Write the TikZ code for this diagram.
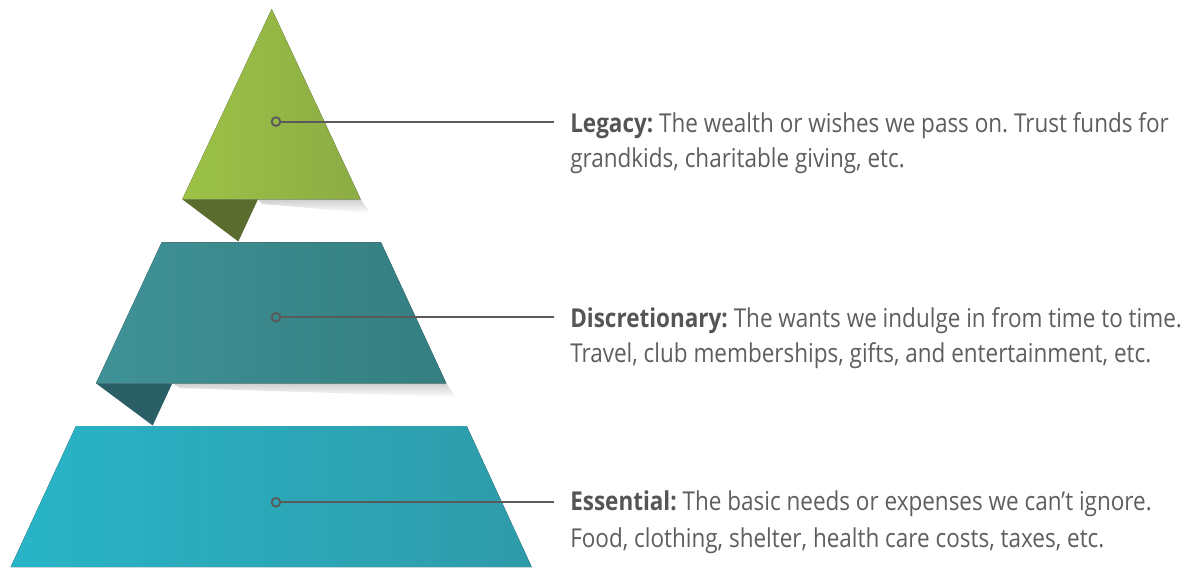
\documentclass[tikz,border=0pt]{standalone}
\usepackage{fontspec}
\setmainfont{Open Sans}[FakeStretch=0.865]
\definecolor{txt}{HTML}{5E5E5E}
\definecolor{txtb}{HTML}{555555}
\definecolor{lineg}{HTML}{5A5A5A}
\definecolor{gL}{HTML}{9CC246}
\definecolor{gR}{HTML}{8CAC45}
\definecolor{gF}{HTML}{5A6C2E}
\definecolor{mL}{HTML}{3F9297}
\definecolor{mR}{HTML}{347E80}
\definecolor{mF}{HTML}{2A5F66}
\definecolor{bL}{HTML}{28B4C7}
\definecolor{bR}{HTML}{2F9BA9}
\tikzset{
  lbl/.style={anchor=base west, inner sep=0pt, text=txt, font=\fontsize{19.5pt}{23pt}\selectfont\frenchspacing},
  dotc/.style={circle, draw=lineg, line width=1.4pt, inner sep=0pt, minimum size=6.5pt},
  conn/.style={draw=lineg, line width=1.4pt, shorten >=12pt},
  shad/.style={top color=black!35, bottom color=white, opacity=0.55, draw=none},
}
\begin{document}
\begin{tikzpicture}[x=0.75pt,y=-0.75pt]
\useasboundingbox (0,0) rectangle (1201,567);
% bottom layer
\fill[left color=bL, right color=bR] (76,426) -- (466.7,426) -- (531.7,567) -- (10.7,567) -- cycle;
% middle layer shadow and layer
\shade[shad] (172,383) -- (446,383) -- (456,397) -- (180,388) -- cycle;
\fill[left color=mL, right color=mR] (161.7,242.3) -- (381,242.3) -- (446.3,383.3) -- (96,383.3) -- cycle;
\fill[mF] (96,383.3) -- (172.3,383.3) -- (152.7,425.5) -- cycle;
% top layer shadow and layer
\shade[shad] (258,199.3) -- (360.7,199.3) -- (370,213) -- (262,204) -- cycle;
\fill[left color=gL, right color=gR] (271.7,9) -- (360.7,199.3) -- (182.3,199.3) -- cycle;
\fill[gF] (182.3,199.3) -- (258,199.3) -- (238.3,241.5) -- cycle;
% dots
\node[dotc] (c1) at (276,121.6) {};
\node[dotc] (c2) at (276,317.3) {};
\node[dotc] (c3) at (276,502.3) {};
% texts
\node[lbl] (t1a) at (570,132.2) {\textcolor{txtb}{\textbf{Legacy:}} The wealth or wishes we pass on. Trust funds for};
\node[lbl] (t1b) at (570,167.7) {grandkids, charitable giving, etc.};
\node[lbl] (t2a) at (570,327) {\textcolor{txtb}{\textbf{Discretionary:}} The wants we indulge in from time to time.};
\node[lbl] (t2b) at (570,362.8) {Travel, club memberships, gifts, and entertainment, etc.};
\node[lbl] (t3a) at (570,510.7) {\textcolor{txtb}{\textbf{Essential:}} The basic needs or expenses we can’t ignore.};
\node[lbl] (t3b) at (570,547) {Food, clothing, shelter, health care costs, taxes, etc.};
% connectors
\draw[conn] (c1) -- (c1 -| t1a.west);
\draw[conn] (c2) -- (c2 -| t2a.west);
\draw[conn] (c3) -- (c3 -| t3a.west);
\end{tikzpicture}
\end{document}
